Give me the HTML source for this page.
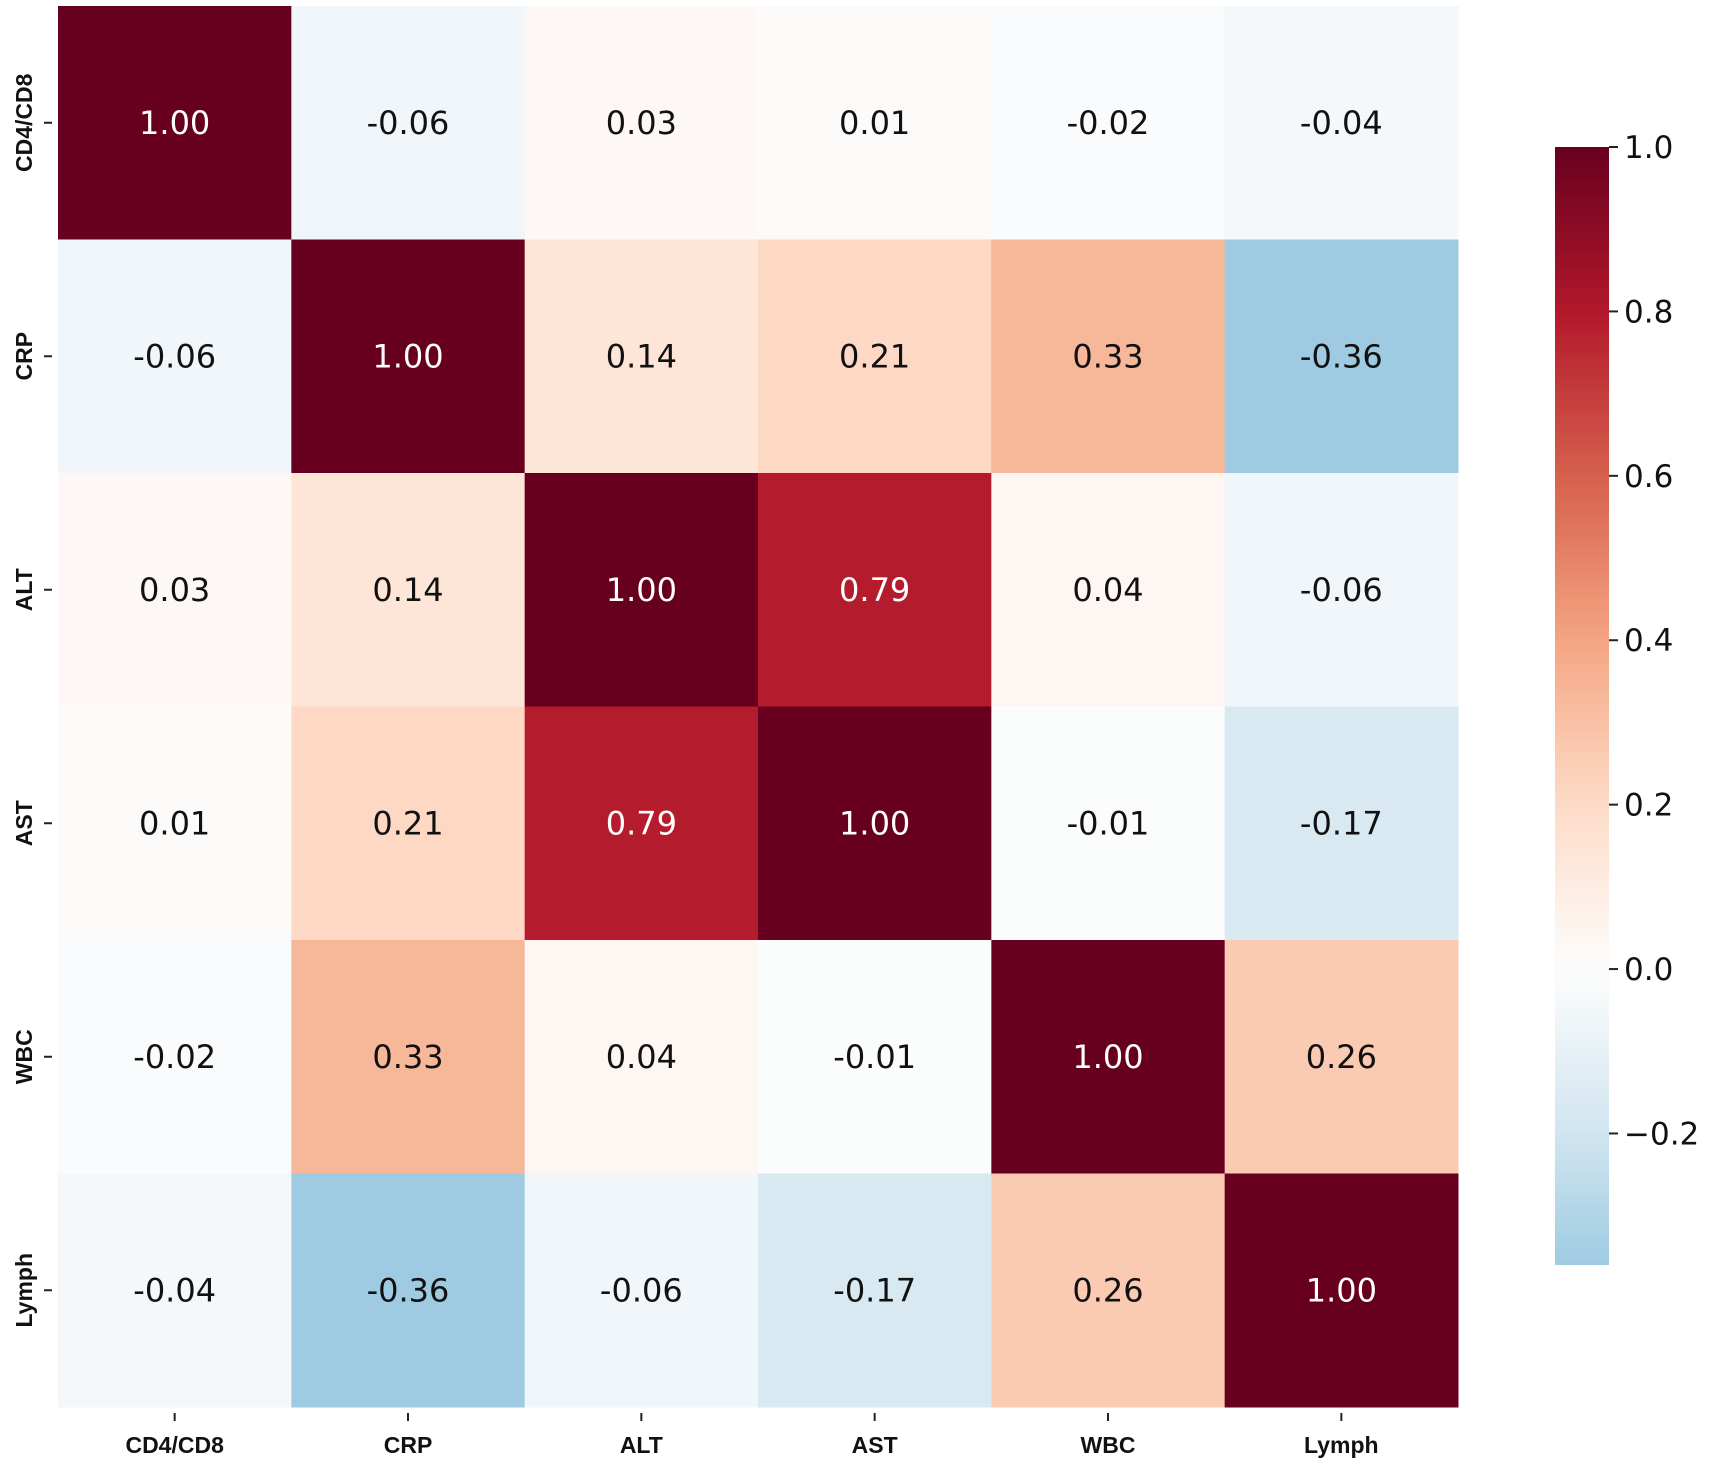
<!DOCTYPE html>
<html><head><meta charset="utf-8"><style>
body{margin:0;background:#fff}
svg{display:block}
</style></head><body>
<svg id="chart" width="1713" height="1465" xmlns="http://www.w3.org/2000/svg" font-family="'Liberation Sans', 'DejaVu Sans', sans-serif">
<defs>
<linearGradient id="cbgrad" x1="0" y1="1" x2="0" y2="0"></linearGradient>
</defs>
<g id="cells"></g>
<g id="xaxis"></g>
<g id="yaxis"></g>
<g id="cbar"></g>
</svg>
<script>
const labels = ["CD4/CD8","CRP","ALT","AST","WBC","Lymph"];
const row0 = [1.00,-0.06,0.03,0.01,-0.02,-0.04];
const row1 = [-0.06,1.00,0.14,0.21,0.33,-0.36];
const row2 = [0.03,0.14,1.00,0.79,0.04,-0.06];
const row3 = [0.01,0.21,0.79,1.00,-0.01,-0.17];
const row4 = [-0.02,0.33,0.04,-0.01,1.00,0.26];
const row5 = [-0.04,-0.36,-0.06,-0.17,0.26,1.00];
const cbTicks = [1.0,0.8,0.6,0.4,0.2,0.0,-0.2];
const cbTickLabels = ["1.0","0.8","0.6","0.4","0.2","0.0","\u22120.2"];
const vmin = -0.36, vmax = 1.0;

const rows=[row0,row1,row2,row3,row4,row5];
const NS="http://www.w3.org/2000/svg";
const L=58,R=1458,T=6,B=1407;
const cw=(R-L)/labels.length, ch=(B-T)/labels.length;
const xPos=i=>L+cw*i, yPos=i=>T+ch*i;
const stops=[[-1,"#053061"],[-0.8,"#2166ac"],[-0.6,"#4393c3"],[-0.4,"#92c5de"],[-0.2,"#d1e5f0"],[0,"#fdfdfd"],[0.2,"#fddbc7"],[0.4,"#f4a582"],[0.6,"#d6604d"],[0.8,"#b2182b"],[1,"#67001f"]];
function hex(h){return [1,3,5].map(k=>parseInt(h.substr(k,2),16));}
function color(v){
  v=Math.max(-1,Math.min(1,v));
  for(let k=0;k<stops.length-1;k++){
    const [a,ca]=stops[k],[b,cb]=stops[k+1];
    if(v<=b){const t=(v-a)/(b-a);const A=hex(ca),B2=hex(cb);
      return "rgb("+A.map((x,j)=>Math.round(x+(B2[j]-x)*t)).join(",")+")";}
  }
  return stops[stops.length-1][1];
}
function el(tag,attrs,parent,txt){const e=document.createElementNS(NS,tag);for(const k in attrs)e.setAttribute(k,attrs[k]);if(txt!==undefined)e.textContent=txt;parent.appendChild(e);return e;}
const cells=document.getElementById('cells');
rows.forEach((row,r)=>row.forEach((v,c)=>{
  const rc=el('rect',{x:xPos(c),y:yPos(r),width:cw+0.5,height:ch+0.5,fill:color(v)},cells);
  
  
  const t=el('text',{x:xPos(c)+cw/2,y:yPos(r)+ch/2+11,'text-anchor':'middle','font-size':32,'font-family':"'DejaVu Sans', sans-serif",fill:Math.abs(v)>0.6?'#fff':'#111'},cells,v.toFixed(2));
  
  
}));
const xa=document.getElementById('xaxis'), ya=document.getElementById('yaxis');
labels.forEach((lab,i)=>{
  const cx=xPos(i)+cw/2;
  el('line',{x1:cx,x2:cx,y1:B+6,y2:B+14,stroke:'#222','stroke-width':2},xa);
  const t=el('text',{x:cx,y:B+46,'text-anchor':'middle','font-size':23,'font-weight':'bold',fill:'#111'},xa,lab);
  
  
  const cy=yPos(i)+ch/2;
  el('line',{x1:L-14,x2:L-6,y1:cy,y2:cy,stroke:'#222','stroke-width':2},ya);
  const ty=el('text',{x:0,y:0,transform:'translate(32,'+cy+') rotate(-90)','text-anchor':'middle','font-size':23,'font-weight':'bold',fill:'#111'},ya,lab);
  
  
});
const cb=document.getElementById('cbar');
const cbL=1555,cbW=54,cbT=147,cbB=1265;
const cbY=v=>cbB-(v-vmin)/(vmax-vmin)*(cbB-cbT);
const grad=document.getElementById('cbgrad');
for(let k=0;k<=40;k++){const v=vmin+(vmax-vmin)*k/40;el('stop',{offset:(k/40),'stop-color':color(v)},grad);}
const bar=el('rect',{x:cbL,y:cbT,width:cbW,height:cbB-cbT,fill:'url(#cbgrad)'},cb);


cbTicks.forEach((v,i)=>{
  const y=cbY(v);
  el('line',{x1:cbL+cbW,x2:cbL+cbW+9,y1:y,y2:y,stroke:'#222','stroke-width':2},cb);
  const t=el('text',{x:cbL+cbW+15,y:y+11,'font-size':31,'font-family':"'DejaVu Sans', sans-serif",fill:'#111'},cb,cbTickLabels[i]);
  
  
});
</script>
</body></html>
